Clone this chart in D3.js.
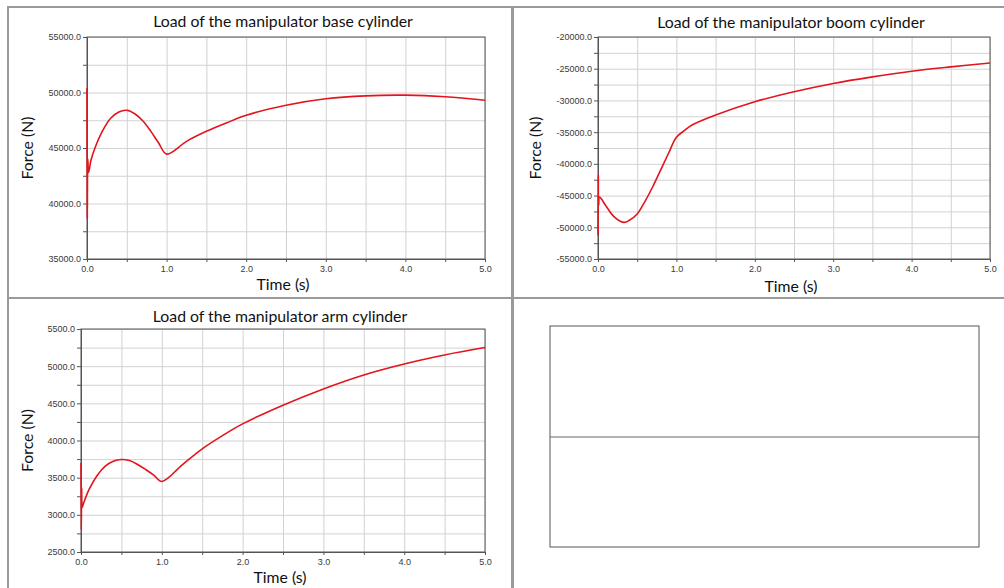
<!DOCTYPE html>
<html>
<head>
<meta charset="utf-8">
<script src="https://cdn.jsdelivr.net/npm/d3@7"></script>
<style>
  body { margin: 0; background: #fff; }
  .tick text { font-family: "Liberation Sans", Arial, sans-serif; font-size: 9px; fill: #3a3a3a; }
  .title, .axis-label { font-family: Lato, "Open Sans", sans-serif; fill: #111; }
</style>
</head>
<body>
<div class="container"></div>
<script>
/********** the Data **********/
// base cylinder
let baseTime  = [0, 0.004, 0.01, 0.02, 0.05, 0.1, 0.2, 0.3, 0.4, 0.5, 0.6, 0.7, 0.8, 0.9, 1.0,
                 1.25, 1.5, 1.75, 2.0, 2.5, 3.0, 3.5, 4.0, 4.5, 5.0];
let baseForce = [50400, 38700, 44000, 42800, 43900, 45000, 46600, 47700, 48250, 48400, 48090, 47450, 46520, 45450, 44450,
                 45600, 46500, 47250, 47950, 48850, 49430, 49700, 49760, 49620, 49300];

// boom cylinder
let boomTime  = [0, 0.004, 0.008, 0.02, 0.1, 0.2, 0.33, 0.4, 0.5, 0.6, 0.7, 0.8, 0.9, 1.0,
                 1.1, 1.2, 1.5, 2.0, 2.5, 3.0, 3.5, 4.0, 4.5, 5.0];
let boomForce = [-51300, -41700, -46500, -45250, -46600, -48290, -49230, -48900, -47900, -45900, -43570, -40950, -38330, -35820,
                 -34770, -33880, -32310, -30210, -28640, -27330, -26290, -25400, -24710, -24090];

// arm cylinder
let armTime  = [0, 0.004, 0.008, 0.015, 0.03, 0.1, 0.2, 0.3, 0.4, 0.5, 0.6, 0.7, 0.8, 0.9, 1.0,
                1.25, 1.5, 1.75, 2.0, 2.5, 3.0, 3.5, 4.0, 4.5, 5.0];
let armForce = [3700, 2800, 3360, 3100, 3150, 3342, 3530, 3655, 3722, 3745, 3731, 3678, 3610, 3534, 3449,
                3670, 3888, 4065, 4224, 4475, 4694, 4882, 5030, 5151, 5250];

let titles = ["Load of the manipulator base cylinder",
              "Load of the manipulator boom cylinder",
              "Load of the manipulator arm cylinder"];
let xTickLabels = [0, 1, 2, 3, 4, 5];
let baseTicks = [35000, 40000, 45000, 50000, 55000];
let boomTicks = [-55000, -50000, -45000, -40000, -35000, -30000, -25000, -20000];
let armTicks  = [2500, 3000, 3500, 4000, 4500, 5000, 5500];

/********** layout **********/
let W = 1004, H = 588;

let svg = d3.select(".container").append("svg")
  .attr("width", W).attr("height", H);

// panel frames
let frames = [
  {x: 8, y: 7, w: 504, h: 291},
  {x: 513, y: 7, w: 500, h: 291},
  {x: 8, y: 298, w: 504, h: 300},
  {x: 513, y: 298, w: 500, h: 300}
];
svg.selectAll("rect.frame").data(frames).join("rect")
  .attr("class", "frame")
  .attr("x", d => d.x).attr("y", d => d.y)
  .attr("width", d => d.w).attr("height", d => d.h)
  .attr("fill", "none").attr("stroke", "#9a9a9a").attr("stroke-width", 2);

let panels = [
  {title: titles[0], time: baseTime, force: baseForce, ticks: baseTicks, minor: 2500,
   left: 87, right: 485, top: 37, bottom: 259, titleY: 27, forceX: 28, timeY: 290},
  {title: titles[1], time: boomTime, force: boomForce, ticks: boomTicks, minor: 2500,
   left: 598, right: 990, top: 37, bottom: 259, titleY: 28, forceX: 536, timeY: 292},
  {title: titles[2], time: armTime, force: armForce, ticks: armTicks, minor: 250,
   left: 81, right: 485, top: 329, bottom: 552, titleY: 322, forceX: 28, timeY: 583}
];

// hyphen minus, like the original software
let fmt = d => d3.format(".1f")(d).replace("\u2212", "-");

/********** drawPanel function **********/
function drawPanel(p) {
  let g = svg.append("g");
  let width = p.right - p.left;
  let height = p.bottom - p.top;

  let xScale = d3.scaleLinear().domain([0, 5]).range([p.left, p.right]);
  let yMin = d3.min(p.ticks), yMax = d3.max(p.ticks);
  let yScale = d3.scaleLinear().domain([yMin, yMax]).range([p.bottom, p.top]);

  let xMinor = d3.range(0, 5.0001, 0.5);
  let yMinor = d3.range(yMin, yMax + 1, p.minor);

  // grid
  g.append("g")
    .attr("transform", `translate(0, ${p.bottom})`)
    .call(d3.axisBottom(xScale).tickValues(xMinor).tickSize(-height).tickFormat(""))
    .call(a => a.select(".domain").remove())
    .call(a => a.selectAll("line").attr("stroke", "#d2d2d2"));
  g.append("g")
    .attr("transform", `translate(${p.left}, 0)`)
    .call(d3.axisLeft(yScale).tickValues(yMinor).tickSize(-width).tickFormat(""))
    .call(a => a.select(".domain").remove())
    .call(a => a.selectAll("line").attr("stroke", "#d2d2d2"));

  // frame
  g.append("rect")
    .attr("x", p.left).attr("y", p.top)
    .attr("width", width).attr("height", height)
    .attr("fill", "none").attr("stroke", "#555");

  // x axis: minor ticks + labels
  g.append("g")
    .attr("transform", `translate(0, ${p.bottom})`)
    .call(d3.axisBottom(xScale).tickValues(xMinor).tickSize(3).tickFormat(""))
    .call(a => a.select(".domain").attr("stroke", "#555"))
    .call(a => a.selectAll("line").attr("stroke", "#555"));
  g.append("g")
    .attr("transform", `translate(0, ${p.bottom})`)
    .call(d3.axisBottom(xScale).tickValues(xTickLabels).tickSize(0).tickPadding(7).tickFormat(fmt))
    .call(a => a.select(".domain").remove());

  // y axis
  g.append("g")
    .attr("transform", `translate(${p.left}, 0)`)
    .call(d3.axisLeft(yScale).tickValues(yMinor).tickSize(4).tickFormat(""))
    .call(a => a.select(".domain").attr("stroke", "#555"))
    .call(a => a.selectAll("line").attr("stroke", "#555"));
  g.append("g")
    .attr("transform", `translate(${p.left}, 0)`)
    .call(d3.axisLeft(yScale).tickValues(p.ticks).tickSize(0).tickPadding(6).tickFormat(fmt))
    .call(a => a.select(".domain").remove());

  // curve
  let pts = p.time.map((t, i) => [t, p.force[i]]);
  let line = d3.line()
    .x(d => xScale(d[0]))
    .y(d => yScale(d[1]))
    .curve(d3.curveCatmullRom.alpha(0.5));
  g.append("path")
    .datum(pts)
    .attr("d", line)
    .attr("fill", "none")
    .attr("stroke", "#e3141b")
    .attr("stroke-width", 1.6);

  // texts
  g.append("text").attr("class", "title")
    .attr("x", (p.left + p.right) / 2 - 3).attr("y", p.titleY)
    .attr("text-anchor", "middle").attr("font-size", 15.8)
    .text(p.title);
  g.append("text").attr("class", "axis-label")
    .attr("x", (p.left + p.right) / 2 - 3).attr("y", p.timeY)
    .attr("text-anchor", "middle").attr("font-size", 15.8)
    .text("Time (s)");
  g.append("text").attr("class", "axis-label")
    .attr("transform", `translate(${p.forceX + 5}, ${(p.top + p.bottom) / 2}) rotate(-90)`)
    .attr("text-anchor", "middle").attr("font-size", 15.8)
    .text("Force (N)");
}

panels.forEach(drawPanel);

// empty fourth panel with its placeholder box
let box = svg.append("g");
box.append("rect")
  .attr("x", 550).attr("y", 326).attr("width", 429).attr("height", 221)
  .attr("fill", "none").attr("stroke", "#555");
box.append("line")
  .attr("x1", 550).attr("x2", 979).attr("y1", 437).attr("y2", 437)
  .attr("stroke", "#666");
</script>
</body>
</html>
